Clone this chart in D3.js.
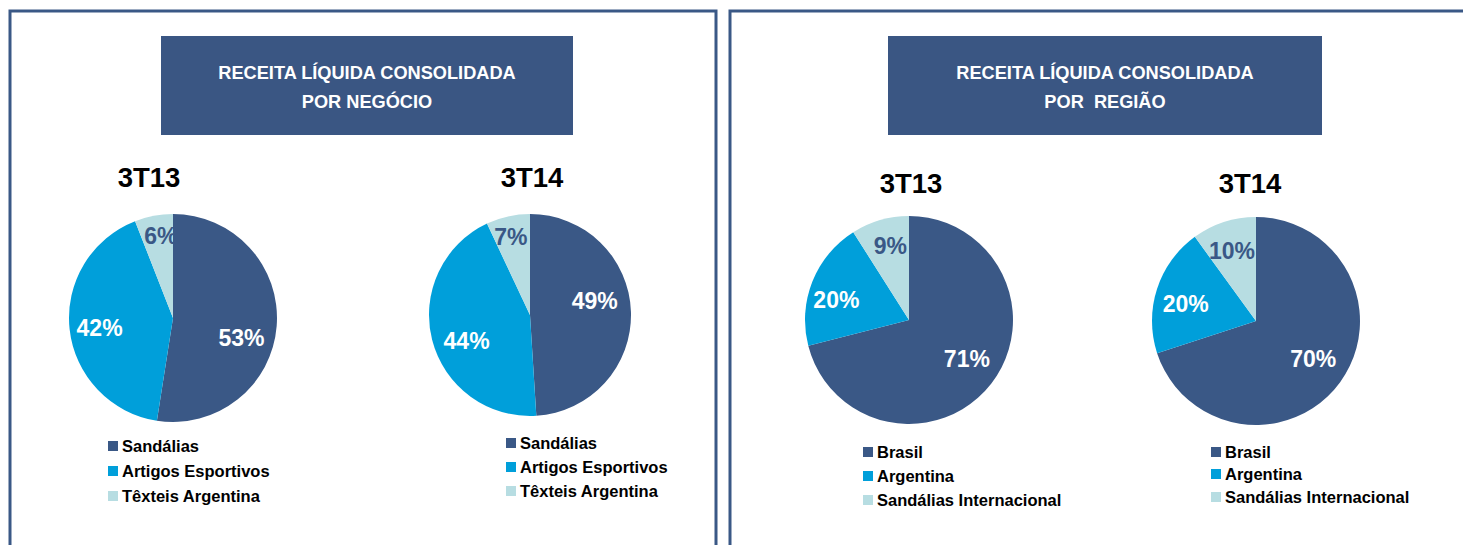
<!DOCTYPE html>
<html>
<head>
<meta charset="utf-8">
<script src="https://cdn.jsdelivr.net/npm/d3@7"></script>
<style>
    body { margin: 0; background: #fff; }
    text { font-family: "Liberation Sans", Arial, sans-serif; font-weight: bold; }
</style>
</head>
<body>
<svg id="chart"></svg>
<script>
// data
const businessCategories = ["Sandálias", "Artigos Esportivos", "Têxteis Argentina"];
const regionCategories = ["Brasil", "Argentina", "Sandálias Internacional"];
const periods = ["3T13", "3T14"];
const business3T13 = [53, 42, 6];
const business3T14 = [49, 44, 7];
const region3T13 = [71, 20, 9];
const region3T14 = [70, 20, 10];
const panelTitles = [
    ["RECEITA LÍQUIDA CONSOLIDADA", "POR NEGÓCIO"],
    ["RECEITA LÍQUIDA CONSOLIDADA", "POR  REGIÃO"]
];

const width = 1463, height = 545;
const colors = ["#3A5886", "#009FDA", "#B7DDE2"];
const labelColors = ["#fff", "#fff", "#3A5886"];
const frameColor = "#3A5886";

const svg = d3.select("#chart")
    .attr("width", width)
    .attr("height", height);

// panel frames (open at the bottom)
const frames = [
    {x0: 10, x1: 716},
    {x0: 730, x1: width + 10}
];
frames.forEach(f => {
    svg.append("path")
        .attr("d", `M${f.x0},${height + 5}V11H${f.x1}V${height + 5}`)
        .attr("fill", "none")
        .attr("stroke", frameColor)
        .attr("stroke-width", 3);
});

// title boxes
const boxes = [
    {x: 161, w: 412, title: panelTitles[0]},
    {x: 888, w: 434, title: panelTitles[1]}
];
boxes.forEach(b => {
    svg.append("rect")
        .attr("x", b.x)
        .attr("y", 36)
        .attr("width", b.w)
        .attr("height", 99)
        .attr("fill", "#3A5683");
    b.title.forEach((line, i) => {
        svg.append("text")
            .attr("x", b.x + b.w / 2)
            .attr("y", 79 + i * 29)
            .attr("text-anchor", "middle")
            .attr("fill", "#fff")
            .attr("font-size", 18.2)
            .style("white-space", "pre")
            .text(line);
    });
});

// one entry per pie: where it sits, label nudges and where its legend goes
const charts = [
    {values: business3T13, cats: businessCategories, period: periods[0],
     cx: 173, cy: 318, r: 104, titleX: 149, titleY: 187,
     nudge: [[-2, 14], [1, 2], [3, -3]],
     legX: 108, legY: [446, 471, 496]},
    {values: business3T14, cats: businessCategories, period: periods[1],
     cx: 530, cy: 315, r: 101, titleX: 532, titleY: 187,
     nudge: [[-4, -12], [7, 8], [-2, -1]],
     legX: 506, legY: [443, 467, 491]},
    {values: region3T13, cats: regionCategories, period: periods[0],
     cx: 909, cy: 320, r: 104, titleX: 911, titleY: 193,
     nudge: [[2, -5], [-3, 7], [4, 4]],
     legX: 863, legY: [452, 476, 500]},
    {values: region3T14, cats: regionCategories, period: periods[1],
     cx: 1256, cy: 321, r: 104, titleX: 1250, titleY: 193,
     nudge: [[0, -4], [1, 6], [1, 7]],
     legX: 1211, legY: [452, 474, 497]}
];

const pie = d3.pie().sort(null);
const labelRadius = [0.68, 0.72, 0.78];

charts.forEach(c => {
    const g = svg.append("g");

    g.append("text")
        .attr("x", c.titleX)
        .attr("y", c.titleY)
        .attr("text-anchor", "middle")
        .attr("font-size", 27.5)
        .attr("fill", "#000")
        .text(c.period);

    const arc = d3.arc().innerRadius(0).outerRadius(c.r);
    const arcs = pie(c.values);
    const pg = g.append("g").attr("transform", `translate(${c.cx},${c.cy})`);

    pg.selectAll("path")
        .data(arcs)
        .join("path")
        .attr("d", arc)
        .attr("fill", (d, i) => colors[i]);

    pg.selectAll("text")
        .data(arcs)
        .join("text")
        .attr("transform", (d, i) => {
            const la = d3.arc().innerRadius(c.r * labelRadius[i]).outerRadius(c.r * labelRadius[i]);
            const [x, y] = la.centroid(d);
            return `translate(${x + c.nudge[i][0]},${y + c.nudge[i][1]})`;
        })
        .attr("text-anchor", "middle")
        .attr("dy", "0.36em")
        .attr("font-size", 23)
        .attr("fill", (d, i) => labelColors[i])
        .text(d => d.data + "%");

    // legend
    const lg = g.append("g");
    c.cats.forEach((name, i) => {
        lg.append("rect")
            .attr("x", c.legX)
            .attr("y", c.legY[i] - 5)
            .attr("width", 10)
            .attr("height", 10)
            .attr("fill", colors[i]);
        lg.append("text")
            .attr("x", c.legX + 14)
            .attr("y", c.legY[i] + 6)
            .attr("font-size", 16.5)
            .attr("fill", "#000")
            .text(name);
    });
});
</script>
</body>
</html>
